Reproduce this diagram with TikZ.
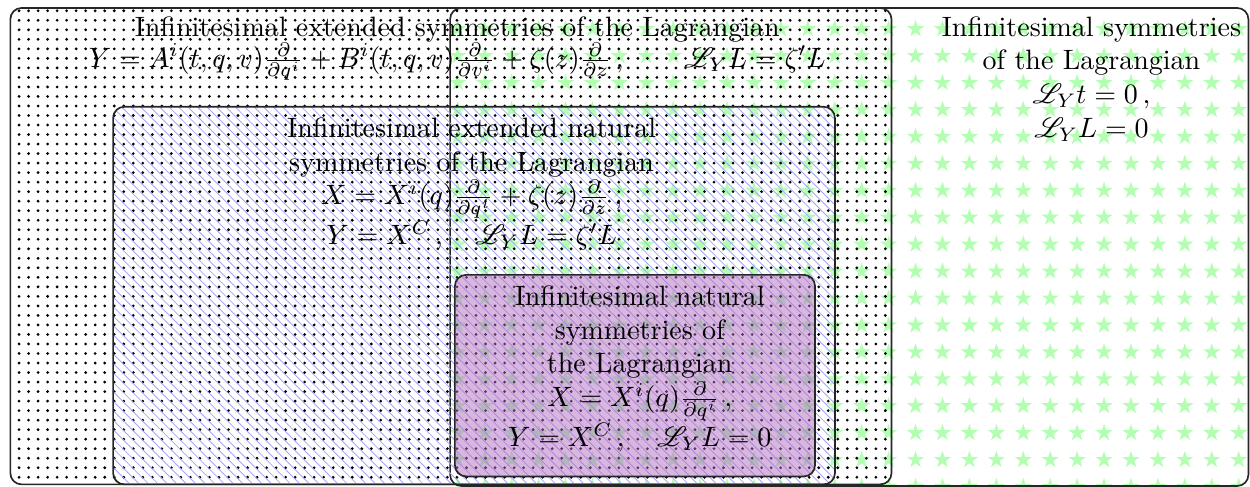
\documentclass[tikz,border=0pt]{standalone}
\usepackage{amsmath}
\usepackage{amssymb}
\usepackage{mathrsfs}
\usetikzlibrary{patterns.meta}
\definecolor{natpurple}{RGB}{178,110,190}

\tikzdeclarepattern{
  name=bigstars,
  type=uncolored,
  bounding box={(-1.69mm,-1.69mm) and (1.69mm,1.69mm)},
  tile size={(3.38mm,3.38mm)},
  code={
    \fill (18:1.13mm) -- (162:1.13mm) -- (306:1.13mm) -- (90:1.13mm) -- (234:1.13mm) -- cycle;
  }
}
\tikzdeclarepattern{
  name=nwlines,
  type=uncolored,
  bounding box={(-1pt,-1pt) and (4.4pt,4.4pt)},
  tile size={(3.38pt,3.38pt)},
  code={
    \draw[line width=0.3pt] (0pt,3.38pt) -- (3.48pt,-0.1pt);
  }
}

\begin{document}
\begin{tikzpicture}[
    region/.style={draw=black!85, rounded corners=4pt, semithick},
    regtext/.style={align=center, inner sep=0pt},
]
    \useasboundingbox (0,0) rectangle (15.69,6.11);

    % the four sets
    \draw[region, pattern=bigstars, pattern color=green!30] (5.65,0.01) rectangle (15.67,6.01);
    \draw[region, pattern={Dots[distance=3.4pt, radius=0.55pt]}] (0.13,0.03) rectangle (11.19,6.01);
    \draw[region, pattern=nwlines, pattern color=blue!35] (1.42,0.03) rectangle (10.48,4.77);
    \draw[region, fill=natpurple, fill opacity=0.5] (5.71,0.13) rectangle (10.23,2.66);

    \node[regtext] (ext) at (5.74, 5.5) {Infinitesimal extended symmetries of the Lagrangian\\[-1pt]
        $Y = A^i(t,q,v)\frac{\partial}{\partial q^i} + B^i(t,q,v)\frac{\partial}{\partial v^i}
        + \zeta(z)\frac{\partial}{\partial z}\,, \qquad \mathscr{L}_Y L = \zeta' L$};
    \node[regtext] (sym) at (13.7, 5.12) {Infinitesimal symmetries\\ of the Lagrangian\\
        $\mathscr{L}_Y t = 0\,,$\\ $\mathscr{L}_Y L = 0$};
    \node[regtext] (extnat) at (5.92, 3.8) {Infinitesimal extended natural\\
        symmetries of the Lagrangian\\
        $X = X^i(q)\frac{\partial}{\partial q^i} + \zeta(z)\frac{\partial}{\partial z}\,,$\\
        $Y = X^C\,, \quad \mathscr{L}_Y L = \zeta' L$};
    \node[regtext] (nat) at (8.03, 1.48) {Infinitesimal natural\\ symmetries of\\ the Lagrangian\\
        $X = X^i(q)\frac{\partial}{\partial q^i}\,,$\\
        $Y = X^C\,, \quad \mathscr{L}_Y L = 0$};
\end{tikzpicture}
\end{document}
